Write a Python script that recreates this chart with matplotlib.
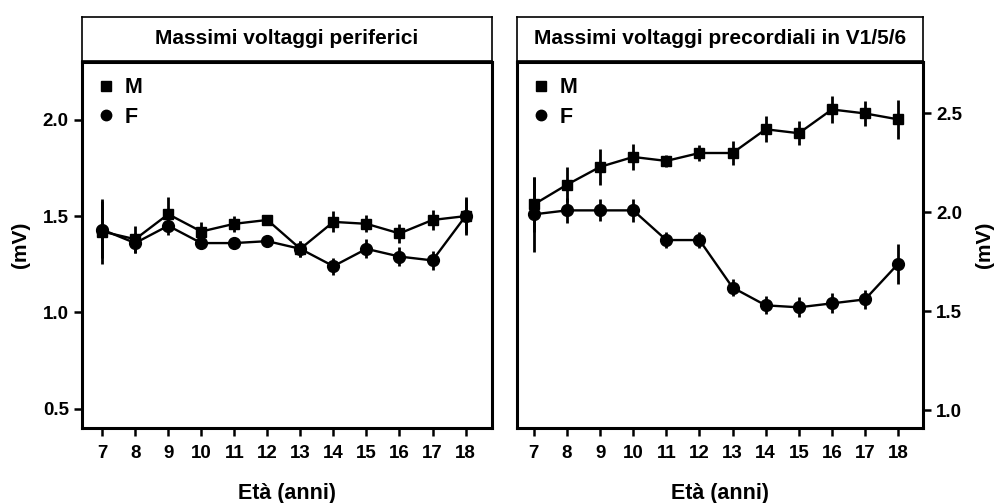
import matplotlib
matplotlib.use("Agg")
import matplotlib.pyplot as plt
from matplotlib.lines import Line2D

plt.rcParams['font.family'] = ['Liberation Sans', 'DejaVu Sans']
plt.rcParams['font.weight'] = 'bold'

ages = [7, 8, 9, 10, 11, 12, 13, 14, 15, 16, 17, 18]

# Peripheral maximum voltages (mV)
per_m = [1.42, 1.38, 1.51, 1.42, 1.46, 1.48, 1.33, 1.47, 1.46, 1.41, 1.48, 1.50]
per_m_err = [0.17, 0.07, 0.09, 0.05, 0.04, 0.02, 0.04, 0.055, 0.045, 0.05, 0.05, 0.10]
per_f = [1.43, 1.36, 1.45, 1.36, 1.36, 1.37, 1.33, 1.24, 1.33, 1.29, 1.27, 1.50]
per_f_err = [0.15, 0.05, 0.05, 0.03, 0.03, 0.03, 0.04, 0.045, 0.05, 0.05, 0.05, 0.09]

# Precordial maximum voltages in V1/5/6 (mV)
pre_m = [2.04, 2.14, 2.23, 2.28, 2.26, 2.30, 2.30, 2.42, 2.40, 2.52, 2.50, 2.47]
pre_m_err = [0.14, 0.09, 0.09, 0.065, 0.03, 0.04, 0.06, 0.065, 0.06, 0.068, 0.065, 0.10]
pre_f = [1.99, 2.01, 2.01, 2.01, 1.86, 1.86, 1.62, 1.53, 1.52, 1.54, 1.56, 1.74]
pre_f_err = [0.19, 0.065, 0.056, 0.057, 0.04, 0.04, 0.045, 0.045, 0.05, 0.05, 0.05, 0.10]

titles = ["Massimi voltaggi periferici", "Massimi voltaggi precordiali in V1/5/6"]
xlabel = "Età (anni)"
ylabel = "(mV)"
yticks_left = [0.5, 1.0, 1.5, 2.0]
yticks_right = [1.0, 1.5, 2.0, 2.5]

fig = plt.figure(figsize=(9.96, 5.03), dpi=100)

W, H = 996.0, 503.0
def rect(x0, y0, x1, y1):
    return [x0 / W, 1 - y1 / H, (x1 - x0) / W, (y1 - y0) / H]

ax1 = fig.add_axes(rect(82, 62, 492, 428))
ax2 = fig.add_axes(rect(517, 62, 923, 428))
st1 = fig.add_axes(rect(82, 17, 492, 60.5))
st2 = fig.add_axes(rect(517, 17, 923, 60.5))

def draw_series(ax, y, yerr, marker, ms):
    ax.errorbar(ages, y, yerr=yerr, fmt='-', color='black', lw=1.7,
                elinewidth=2.0, capsize=0, marker=marker, ms=ms,
                mfc='black', mec='black', zorder=3)

for ax, (m, me, f, fe) in zip(
        [ax1, ax2],
        [(per_m, per_m_err, per_f, per_f_err),
         (pre_m, pre_m_err, pre_f, pre_f_err)]):
    draw_series(ax, m, me, 's', 7.5)
    draw_series(ax, f, fe, 'o', 8.5)
    ax.set_xticks(ages)
    ax.set_xticklabels([str(a) for a in ages])
    for s in ax.spines.values():
        s.set_linewidth(2.2)
    ax.tick_params(axis='both', direction='out', length=6, width=1.8,
                   labelsize=13.5)
    ax.tick_params(axis='x', pad=6)
    ax.set_xlabel(xlabel, fontsize=15.5, fontweight='bold', labelpad=15)
    handles = [Line2D([], [], ls='none', marker='s', ms=6.5, color='black'),
               Line2D([], [], ls='none', marker='o', ms=7.5, color='black')]
    ax.legend(handles, ['M', 'F'], loc='upper left', frameon=False,
              prop={'weight': 'bold', 'size': 15.5}, handlelength=0.8,
              handletextpad=0.5, labelspacing=0.4, borderaxespad=0.3,
              bbox_to_anchor=(0.0, 1.0))

ax1.set_xlim(6.39, 18.80)
ax1.set_ylim(0.40, 2.30)
ax1.set_yticks(yticks_left)
ax1.set_yticklabels([f"{v:.1f}" for v in yticks_left])
ax1.set_ylabel(ylabel, fontsize=15, fontweight='bold', labelpad=9)

ax2.set_xlim(6.49, 18.75)
ax2.set_ylim(0.91, 2.76)
ax2.set_yticks(yticks_right)
ax2.set_yticklabels([f"{v:.1f}" for v in yticks_right])
ax2.yaxis.tick_right()
ax2.yaxis.set_label_position('right')
ax2.set_ylabel(ylabel, fontsize=15, fontweight='bold', labelpad=9,
               rotation=90)

for st, t in zip([st1, st2], titles):
    st.set_xticks([])
    st.set_yticks([])
    for s in st.spines.values():
        s.set_linewidth(1.2)
    st.text(0.5, 0.5, t, ha='center', va='center', fontsize=15,
            fontweight='bold', transform=st.transAxes)

fig.savefig("out.png", dpi=100)
